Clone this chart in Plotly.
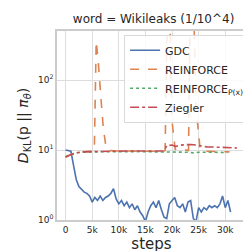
import plotly.graph_objects as go

# ---- data ----
gdc_steps = [0, 500, 1000, 1500, 2000, 2500, 3000, 3500, 4000, 4500, 5000, 5500, 6000, 6500, 7000,
             7500, 8000, 8500, 9000, 9500, 10000, 10500, 11000, 11500, 12000, 12500, 13000, 13500,
             14000, 14500, 15000, 15500, 16000, 16500, 17000, 17500, 18000, 18500, 19000, 19500,
             20000, 20500, 21000, 21500, 22000, 22500, 23000, 23500, 24000, 24500, 25000, 25500,
             26000, 26500, 27000, 27500, 28000, 28500, 29000, 29500, 30000, 30500, 31000]
gdc_vals = [10.0, 9.9, 9.6, 6.0, 3.8, 3.0, 2.7, 2.5, 2.4, 2.2, 1.8, 2.1, 1.9, 2.2, 1.9,
            2.1, 2.2, 2.4, 2.8, 2.0, 1.7, 1.9, 1.6, 1.8, 1.5, 1.7, 1.4, 1.6,
            1.3, 1.15, 0.95, 1.3, 1.6, 1.8, 1.5, 1.9, 1.4, 1.1, 1.05, 1.7,
            1.9, 2.1, 1.6, 1.5, 1.7, 1.3, 1.8, 1.9, 1.05, 0.95, 1.5, 1.3,
            1.5, 1.4, 1.6, 1.5, 1.6, 1.5, 1.7, 2.2, 1.5, 1.9, 1.3]

rf_steps = [0, 500, 1000, 1500, 2000, 3000, 4000, 5000, 5400, 5750, 6100, 6600, 7100, 7600, 8000,
            10000, 12000, 14000, 16000, 18000, 18700, 19100, 19600, 19900, 20600, 21500, 22500,
            23100, 23400, 24100, 24500, 25300, 26000, 28000, 30000, 30800]
rf_vals = [8.0, 8.3, 8.7, 9.0, 9.2, 9.4, 9.4, 9.5, 9.6, 360, 200, 60, 20, 11, 9.8,
           9.7, 9.6, 9.7, 9.6, 9.6, 9.8, 900, 900, 30, 10.2, 10.4, 10.0,
           9.8, 900, 900, 40, 10.0, 9.6, 9.5, 9.5, 9.4]

px_steps = [0, 1000, 2000, 3000, 5000, 8000, 11000, 14000, 17000, 19000, 21000, 23000, 24000,
            25000, 27000, 29000, 30400]
px_vals = [8.0, 8.7, 9.1, 9.3, 9.4, 9.5, 9.5, 9.5, 9.4, 9.4, 9.3, 9.3, 9.1, 9.3, 9.3, 9.3, 9.2]

zg_steps = [0, 1000, 2000, 3000, 5000, 7000, 10000, 13000, 15000, 18500, 19000, 20000, 20700,
            21500, 22500, 23500, 24500, 25500, 26500, 28000, 30000, 32200]
zg_vals = [7.9, 8.6, 9.1, 9.4, 9.5, 9.6, 9.7, 9.7, 9.7, 9.7, 11.5, 11.8, 11.2,
           11.7, 11.9, 12.0, 11.8, 11.4, 11.1, 11.0, 10.8, 10.7]

series_names = ["GDC", "REINFORCE", "REINFORCE<sub>P(x)</sub>", "Ziegler"]
x_tick_vals = [0, 5000, 10000, 15000, 20000, 25000, 30000]
x_tick_text = ["0", "5k", "10k", "15k", "20k", "25k", "30k"]
y_tick_vals = [1, 10, 100]
y_tick_text = ["10<sup>0</sup>", "10<sup>1</sup>", "10<sup>2</sup>"]

FONT = "DejaVu Sans"
fig = go.Figure()
fig.add_trace(go.Scatter(x=gdc_steps, y=gdc_vals, mode="lines", name=series_names[0],
                         line=dict(color="#4c72b0", width=1.6)))
fig.add_trace(go.Scatter(x=rf_steps, y=rf_vals, mode="lines", name=series_names[1],
                         line=dict(color="#dd8452", width=1.6, dash="dash")))
fig.add_trace(go.Scatter(x=px_steps, y=px_vals, mode="lines", name=series_names[2],
                         line=dict(color="#55a868", width=1.6, dash="dot")))
fig.add_trace(go.Scatter(x=zg_steps, y=zg_vals, mode="lines", name=series_names[3],
                         line=dict(color="#c44e52", width=1.6, dash="dashdot")))

fig.update_layout(
    width=251, height=251,
    margin=dict(l=49, r=10, t=23, b=39),
    paper_bgcolor="white", plot_bgcolor="white",
    font=dict(family=FONT, color="#262626"),
    title=dict(text="word = Wikileaks (1/10^4)", x=0.58, xanchor="center", y=0.955, yanchor="middle",
               font=dict(size=12, family=FONT, color="#262626")),
    legend=dict(x=0.355, y=0.98, xanchor="left", yanchor="top",
                bgcolor="rgba(255,255,255,0.85)", bordercolor="#d9d9d9", borderwidth=1,
                font=dict(size=11, family=FONT), tracegroupgap=0, itemwidth=30,
                traceorder="normal"),
    showlegend=True,
)
fig.update_xaxes(range=[-1615, 33900], tickvals=x_tick_vals, ticktext=x_tick_text,
                 showgrid=True, gridcolor="#dddddd", gridwidth=1,
                 showline=True, linecolor="#cccccc", linewidth=1.5, mirror=True,
                 zeroline=False, ticks="", tickfont=dict(size=9, family=FONT),
                 title=dict(text="steps", font=dict(size=15, family=FONT), standoff=4))
fig.update_yaxes(type="log", range=[0, 2.7], tickvals=y_tick_vals, ticktext=y_tick_text,
                 showgrid=True, gridcolor="#dddddd", gridwidth=1,
                 showline=True, linecolor="#cccccc", linewidth=1.5, mirror=True,
                 zeroline=False, ticks="", tickfont=dict(size=9, family=FONT),
                 title=dict(text="<i>D</i><sub>KL</sub>(p || <i>π</i><sub><i>θ</i></sub>)",
                            font=dict(size=14, family=FONT), standoff=6))

fig.write_html("out.html")
